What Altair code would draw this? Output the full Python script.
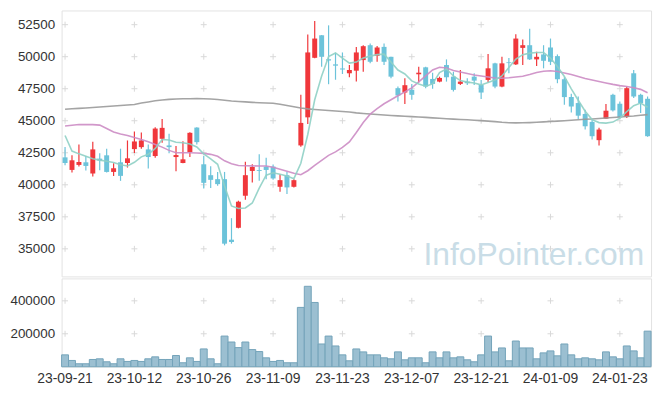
import altair as alt
import pandas as pd

dates = ["23-09-21","23-09-22","23-09-25","23-09-26","23-09-27",
"23-10-04","23-10-05","23-10-06","23-10-10","23-10-11","23-10-12","23-10-13","23-10-16","23-10-17","23-10-18","23-10-19","23-10-20","23-10-23","23-10-24","23-10-25","23-10-26","23-10-27","23-10-30","23-10-31",
"23-11-01","23-11-02","23-11-03","23-11-06","23-11-07","23-11-08","23-11-09","23-11-10","23-11-13","23-11-14","23-11-15","23-11-16","23-11-17","23-11-20","23-11-21","23-11-22","23-11-23","23-11-24","23-11-27","23-11-28","23-11-29","23-11-30",
"23-12-01","23-12-04","23-12-05","23-12-06","23-12-07","23-12-08","23-12-11","23-12-12","23-12-13","23-12-14","23-12-15","23-12-18","23-12-19","23-12-20","23-12-21","23-12-22","23-12-26","23-12-27","23-12-28",
"24-01-02","24-01-03","24-01-04","24-01-05","24-01-08","24-01-09","24-01-10","24-01-11","24-01-12","24-01-15","24-01-16","24-01-17","24-01-18","24-01-19","24-01-22","24-01-23","24-01-24","24-01-25","24-01-26","24-01-29"]

opens = [42140,41160,41550,41755,40880,42041,42300,41003,41755,41700,
42785,42940,42762,42243,43591,43072,42165,41700,42553,44466,
41600,40748,40438,40438,35713,36642,39144,41081,41150,41420,
41420,39842,40748,39842,43072,45264,49912,51671,49800,49400,
49080,48704,48906,49734,50896,50067,50765,49990,47542,47201,
47410,48627,49169,48262,48053,49347,48441,47875,48053,48441,
47798,48185,49479,47666,49560,49401,50687,50896,49789,50176,
50718,50044,48239,46845,46380,45528,44908,43483,45163,47023,
46326,45295,48704,47023,46713]
highs = [42940,42300,43150,42243,43358,42452,42816,41678,42816,43459,
44156,44079,43150,44490,45140,43978,43018,43405,44102,44500,
42243,41450,41000,41003,37393,38757,41793,41600,42375,42119,
41577,40825,41003,40440,47023,51725,52779,51700,52446,50300,
50330,49347,50765,50896,51028,50842,51028,50000,47666,48317,
47875,49215,49215,48750,48440,49789,48828,48960,48317,48704,
48185,50200,49530,49990,49890,51749,51338,52190,50377,50896,
51415,50176,48394,47100,46891,45861,45086,44443,46302,47100,
46504,47666,48960,47100,46891]
lows = [41520,40960,41420,41112,40647,41135,40957,40694,40306,41344,
42475,42816,41267,42119,43281,42452,41058,41678,42165,43150,
39717,39750,39920,35270,35402,36600,38834,40182,40306,40438,
40384,39454,39276,39795,42971,44753,49880,49215,47850,48200,
48650,48394,48053,48828,49479,49603,49347,48317,46504,46302,
46635,47976,47542,47488,48000,48053,47279,47798,47798,47798,
46690,47976,47542,47620,48704,49347,49347,49734,49269,49091,
49347,47929,46248,45652,45140,44311,43537,43072,45150,45730,
45163,45218,46767,45605,43746]
closes = [41700,41910,41780,41470,42762,41886,41003,41290,40694,42065,
43382,43459,42165,44389,44443,42940,42320,41987,44056,43328,
40151,40384,40050,35402,35534,38679,40748,41390,41080,41157,
40492,40360,39795,40360,44830,50331,51415,49990,49700,49300,
49000,48960,50331,50819,49603,50718,49603,48441,46969,47774,
47023,48750,47666,47875,48340,48394,47410,48053,47929,48131,
47201,49091,47666,49479,49500,51415,50896,49789,49990,49680,
49603,48239,46845,46117,45396,44567,43792,44311,45783,45807,
45264,47542,46891,46380,43792]
volumes = [72000,38000,18000,18000,44000,48000,30000,18000,48000,32000,
38000,32000,48000,60000,44000,44000,68000,24000,54000,32000,
108000,48000,18000,186000,150000,116000,150000,104000,92000,54000,
32000,38000,24000,24000,360000,488000,390000,138000,186000,126000,
72000,36000,108000,90000,72000,72000,54000,48000,90000,42000,
54000,54000,24000,90000,54000,90000,54000,60000,42000,30000,
72000,186000,90000,114000,36000,156000,114000,114000,48000,84000,
96000,66000,138000,72000,48000,54000,48000,42000,90000,60000,
48000,126000,96000,54000,216000]
ma5 = [43847,42630,42413,42220,42026,41925,41832,41732,41561,41468,
41755,42181,42375,42839,43537,43498,43320,43281,43188,42956,
42413,42026,41600,39896,38346,38152,38191,38578,39741,40748,
40941,40825,40693,40477,41677,43924,46636,48495,50005,50292,
49890,49502,49579,49890,50044,50160,50199,49579,48960,48650,
48107,47875,47697,47875,48766,49037,48495,48131,48015,47952,
47798,47991,48185,48495,49153,49812,50160,50277,50331,50331,
49890,49231,48456,47488,46597,45745,45086,44854,44815,44893,
45203,45706,46171,46380,46055]
ma20 = [44582,44644,44699,44699,44699,44660,44389,44118,43963,43847,
43692,43537,43359,43150,42940,42685,42506,42506,42506,42475,
42452,42375,42220,41871,41639,41499,41484,41476,41468,41460,
41367,41213,41058,40903,40787,41097,41523,41910,42297,42568,
42917,43343,44079,44854,45512,45938,46326,46636,46946,47255,
47565,48030,48495,48960,49169,49115,48921,48805,48688,48572,
48495,48417,48340,48316,48355,48417,48471,48611,48766,48859,
48906,48844,48727,48611,48456,48301,48185,48069,47952,47836,
47743,47666,47580,47449,47178]
ma120 = [45899,45938,45962,45992,46031,46078,46117,46155,46194,46233,
46271,46380,46465,46558,46620,46666,46697,46713,46721,46728,
46713,46690,46651,46597,46543,46504,46473,46434,46403,46380,
46364,46287,46186,46093,45993,45923,45876,45838,45799,45760,
45721,45675,45613,45566,45528,45489,45450,45411,45380,45349,
45318,45295,45264,45226,45187,45156,45125,45102,45071,45040,
45009,44970,44931,44877,44846,44830,44838,44854,44877,44908,
44939,44970,45001,45040,45071,45109,45140,45171,45210,45249,
45295,45334,45373,45428,45474]

price_ticks = [35000, 37500, 40000, 42500, 45000, 47500, 50000, 52500]
volume_ticks = [200000, 400000]
date_ticks = dates[0::10]

RED = "#f0373b"
BLUE = "#6cc3da"
FONT = "Liberation Sans"

df = pd.DataFrame({"date": dates, "open": opens, "high": highs, "low": lows,
                   "close": closes, "volume": volumes,
                   "ma5": ma5, "ma20": ma20, "ma120": ma120})

W = 594
xscale = alt.Scale(domain=dates, paddingInner=0, paddingOuter=0)
pscale = alt.Scale(domain=[32846, 53608], nice=False, zero=False)
vscale = alt.Scale(domain=[0, 536000], nice=False, zero=False)

def yaxis(vals):
    return alt.Axis(values=vals, format="d", title=None, domain=False, ticks=False,
                    tickSize=0, grid=False, labelPadding=7, labelFontSize=13.5,
                    labelColor="#333333", labelFont=FONT, labelOverlap=False,
                    minExtent=53, maxExtent=53)

PAX = yaxis(price_ticks)
VAX = yaxis(volume_ticks)

def py(field):
    return alt.Y(field, scale=pscale, axis=PAX, title=None)

def vy(field):
    return alt.Y(field, scale=vscale, axis=VAX, title=None)

X_top = alt.X("date:N", sort=dates, scale=xscale, axis=None)

cross_shape = "M-1,0L1,0M0,-1L0,1"
cross_p = pd.DataFrame([(d, v) for d in date_ticks for v in price_ticks], columns=["date", "v"])
cross_v = pd.DataFrame([(d, v) for d in date_ticks for v in volume_ticks], columns=["date", "v"])

crosses_top = alt.Chart(cross_p).mark_point(shape=cross_shape, size=36, filled=False,
                                             color="#d9d9d9", strokeWidth=1, opacity=1).encode(
    x=X_top, y=py("v:Q"))

watermark = alt.Chart(pd.DataFrame({"t": ["InfoPointer.com"]})).mark_text(
    align="right", baseline="alphabetic", fontSize=32, font=FONT, color="#c9dde7").encode(
    text="t:N", x=alt.value(587), y=alt.value(257))

cond = alt.condition("datum.close >= datum.open", alt.value(RED), alt.value(BLUE))

base = alt.Chart(df)
wicks = base.mark_rule(strokeWidth=1.2).encode(
    x=X_top, y=py("low:Q"), y2="high:Q", color=cond)
bodies = base.mark_bar(size=5).encode(
    x=X_top, y=py("open:Q"), y2="close:Q", color=cond)

l120 = base.mark_line(color="#9a9a9a", strokeWidth=1.6, opacity=0.9).encode(
    x=X_top, y=py("ma120:Q"))
l20 = base.mark_line(color="#cc8cc4", strokeWidth=1.6, opacity=0.9).encode(
    x=X_top, y=py("ma20:Q"))
l5 = base.mark_line(color="#8fd0c5", strokeWidth=1.6, opacity=0.9).encode(
    x=X_top, y=py("ma5:Q"))

price = alt.layer(crosses_top, watermark, wicks, bodies, l120, l20, l5).properties(
    width=W, height=268)

X_bot = alt.X("date:N", sort=dates, scale=xscale, title=None,
              axis=alt.Axis(values=date_ticks, labelAngle=0, domain=False, ticks=False,
                            tickSize=0, grid=False, labelPadding=5, labelFontSize=14,
                            labelColor="#333333", labelFont=FONT, labelOverlap=False))

crosses_bot = alt.Chart(cross_v).mark_point(shape=cross_shape, size=36, filled=False,
                                             color="#d9d9d9", strokeWidth=1, opacity=1).encode(
    x=X_bot, y=vy("v:Q"))

vbars = base.mark_bar(fill="#9bbfd1", stroke="#74a3b9", strokeWidth=1, opacity=1).encode(
    x=X_bot, y=vy("volume:Q"))

volume = alt.layer(crosses_bot, vbars).properties(width=W, height=89)

chart = alt.vconcat(price, volume, spacing=0).properties(
    padding={"left": 0, "top": 0, "right": 5, "bottom": 5},
    background="white"
).configure_view(stroke="#e3e3e3", strokeWidth=1)

chart.save("out.html", embed_options={"renderer": "svg", "actions": False})
